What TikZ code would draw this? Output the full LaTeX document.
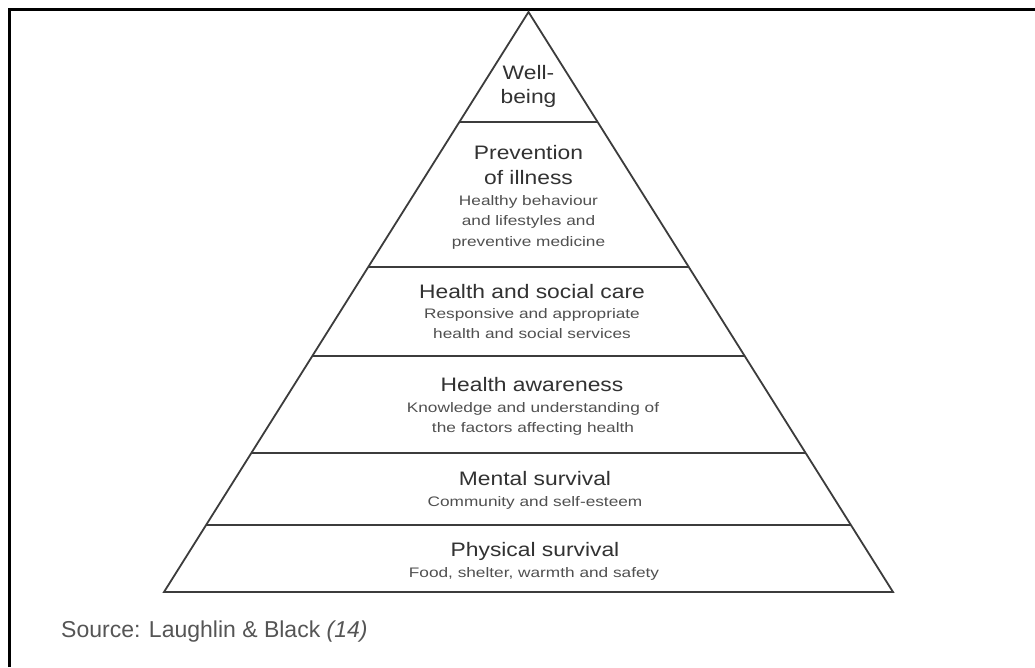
\documentclass[tikz,border=0pt]{standalone}
\usepackage{fontspec}
\setmainfont{Liberation Sans}
\newfontfamily\headfont{Liberation Sans}[FakeStretch=1.17]
\newfontfamily\subfont{Liberation Sans}[FakeStretch=1.25]
\usetikzlibrary{calc}
\definecolor{edge}{RGB}{60,60,60}
\definecolor{headc}{RGB}{50,50,50}
\definecolor{subc}{RGB}{80,80,80}
\definecolor{srcc}{RGB}{85,85,85}
\tikzset{
  frame/.style={line width=3pt,black},
  pyr/.style={line width=1.8pt,edge,line join=miter},
  divider/.style={line width=1.8pt,edge},
  head/.style={anchor=base,inner sep=0pt,text=headc,font=\headfont\fontsize{19.5}{24}\selectfont},
  sub/.style={anchor=base,inner sep=0pt,text=subc,font=\subfont\fontsize{13.8}{18}\selectfont},
  src/.style={anchor=base west,inner sep=0pt,text=srcc,font=\fontsize{23}{28}\selectfont}
}
\begin{document}
\begin{tikzpicture}[x=1pt,y=-1pt]
\useasboundingbox (0,0) rectangle (1035,667);
\fill[white] (0,0) rectangle (1035,667);
% frame (top and left only)
\coordinate (fbl) at (9,667);
\coordinate (ftl) at (9,9);
\coordinate (ftr) at (1035,9);
\draw[frame] (fbl) -- (ftl) -- (ftr);
% pyramid
\coordinate (apex) at (528.5,12);
\coordinate (bl) at (164,592);
\coordinate (br) at (893,592);
\draw[pyr] (apex) -- (bl) -- (br) -- cycle;
% dividers
\foreach \n/\t in {1/0.1897,2/0.4397,3/0.5931,4/0.7603,5/0.8845}{
  \coordinate (L\n) at ($(apex)!\t!(bl)$);
  \coordinate (R\n) at ($(apex)!\t!(br)$);
  \draw[divider] (L\n) -- (R\n);
}
% texts
\node[head] (wb1) at (528.5,79) {Well-};
\node[head] (wb2) at (528.5,103) {being};
\node[head] (pv1) at (528.5,159) {Prevention};
\node[head] (pv2) at (528.5,184) {of illness};
\node[sub] (pvs1) at (528.5,205) {Healthy behaviour};
\node[sub] (pvs2) at (528.5,225) {and lifestyles and};
\node[sub] (pvs3) at (528.5,246) {preventive medicine};
\node[head] (hs) at (532,298) {Health and social care};
\node[sub] (hss1) at (532,318) {Responsive and appropriate};
\node[sub] (hss2) at (532,338) {health and social services};
\node[head] (ha) at (532,391) {Health awareness};
\node[sub] (has1) at (533,412) {Knowledge and understanding of};
\node[sub] (has2) at (533,432) {the factors affecting health};
\node[head] (ms) at (535,485) {Mental survival};
\node[sub] (mss) at (535,506) {Community and self-esteem};
\node[head] (ps) at (535,556) {Physical survival};
\node[sub] (pss) at (534,577) {Food, shelter, warmth and safety};
\node[src] (source) at (61,637) {Source: Laughlin \& Black \textit{(14)}};
\end{tikzpicture}
\end{document}
